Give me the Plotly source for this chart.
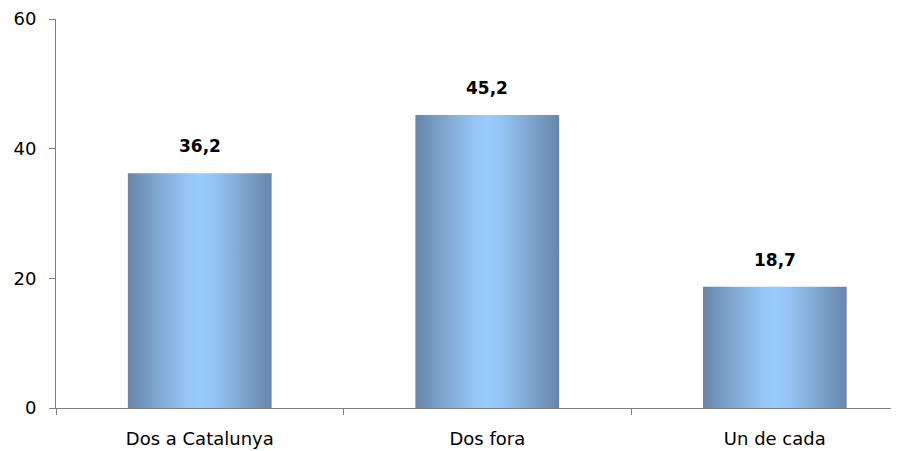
import plotly.graph_objects as go

categories = ["Dos a Catalunya", "Dos fora", "Un de cada"]
values = [36.2, 45.2, 18.7]
value_labels = ["36,2", "45,2", "18,7"]
y_ticks = [0, 20, 40, 60]

bar_half = 0.25
gradient = [
    [0.0, "#6686AA"],
    [0.2, "#7FA6CF"],
    [0.4, "#93C4F3"],
    [0.5, "#99CCFF"],
    [0.6, "#93C4F3"],
    [0.8, "#7FA6CF"],
    [1.0, "#6686AA"],
]
FONT = "DejaVu Sans, Liberation Sans, Arial"

fig = go.Figure()
for i, v in enumerate(values):
    x0, x1 = i - bar_half, i + bar_half
    fig.add_trace(go.Scatter(
        x=[x0, x1, x1, x0, x0],
        y=[0, 0, v, v, 0],
        mode="lines",
        line=dict(width=0),
        fill="toself",
        fillgradient=dict(type="horizontal", colorscale=gradient),
        hoverinfo="skip",
        showlegend=False,
    ))
    fig.add_annotation(
        x=i, y=v, text=f"<b>{value_labels[i]}</b>",
        showarrow=False, yanchor="bottom", yshift=15,
        font=dict(family=FONT, size=17, color="black"),
    )

fig.update_layout(
    width=891, height=443,
    margin=dict(l=48, r=0, t=11, b=43),
    paper_bgcolor="white", plot_bgcolor="white",
    showlegend=False,
    font=dict(family=FONT, size=18, color="black"),
)
fig.update_xaxes(
    range=[-0.5, 2.432],
    tickmode="array", tickvals=list(range(len(categories))), ticktext=categories,
    ticks="", showgrid=False, zeroline=False,
    showline=True, linecolor="#808080", linewidth=1,
    minor=dict(tickmode="array", tickvals=[-0.5, 0.5, 1.5], ticks="outside",
               ticklen=6, tickcolor="#808080", showgrid=False),
    tickfont=dict(size=18),
    ticklabelstandoff=14,
)
fig.update_yaxes(
    range=[0, 60], tickmode="array", tickvals=y_ticks,
    ticks="outside", ticklen=6, tickcolor="#808080",
    showgrid=False, zeroline=False,
    showline=True, linecolor="#808080", linewidth=1,
    tickfont=dict(size=18),
    ticklabelstandoff=9,
)

fig.write_html("out.html")
